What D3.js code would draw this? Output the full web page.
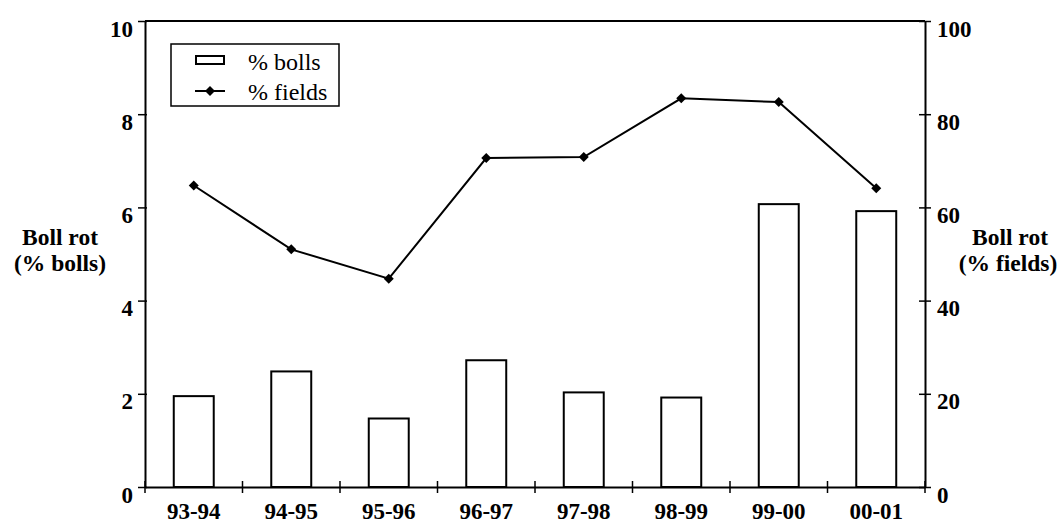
<!DOCTYPE html>
<html><head><meta charset="utf-8">
<script src="https://cdn.jsdelivr.net/npm/d3@7"></script>
<style>body{margin:0;background:#fff}svg{display:block}</style>
</head><body><svg id="c" width="1063" height="526"></svg>
<script>
const seasons = ["93-94","94-95","95-96","96-97","97-98","98-99","99-00","00-01"];
const pctBolls = [1.95, 2.48, 1.47, 2.72, 2.03, 1.92, 6.07, 5.92];
const pctFields = [64.7, 51.0, 44.7, 70.6, 70.8, 83.4, 82.6, 64.1];
const leftTicks = [0, 2, 4, 6, 8, 10];
const rightTicks = [0, 20, 40, 60, 80, 100];

const FONT = "'Liberation Serif', 'Times New Roman', serif";
const svg = d3.select("#c");
const L = 145, R = 925, T = 21, B = 487;
const x = d3.scaleBand().domain(seasons).range([L, R]).paddingInner(0.59).paddingOuter(0.295);
const xb = d3.scaleBand().domain(seasons).range([L, R]);
const yL = d3.scaleLinear().domain([0, 10]).range([B, T]);
const yR = d3.scaleLinear().domain([0, 100]).range([B, T]);

// bars
svg.append("g").selectAll("rect").data(seasons).join("rect")
  .attr("x", d => x(d)).attr("width", x.bandwidth())
  .attr("y", (d,i) => yL(pctBolls[i])).attr("height", (d,i) => B - yL(pctBolls[i]))
  .attr("fill", "#fff").attr("stroke", "#000").attr("stroke-width", 2);

// frame top
svg.append("line").attr("x1", L).attr("x2", R).attr("y1", T).attr("y2", T).attr("stroke", "#000").attr("stroke-width", 2);

// left axis
const gL = svg.append("g").attr("transform", `translate(${L},0)`)
  .call(d3.axisLeft(yL).tickValues(leftTicks).tickSize(7).tickSizeOuter(0).tickPadding(5));
gL.selectAll(".tick line").attr("x2", -7).attr("x1", 2);
// right axis
const gR = svg.append("g").attr("transform", `translate(${R},0)`)
  .call(d3.axisRight(yR).tickValues(rightTicks).tickSize(6).tickSizeOuter(0).tickPadding(6));
gR.selectAll(".tick line").attr("x1", -6).attr("x2", 6);
// bottom axis: ticks at category boundaries
const gB = svg.append("g").attr("transform", `translate(0,${B})`)
  .call(d3.axisBottom(xb).tickSize(0).tickSizeOuter(0).tickPadding(16));
const bounds = seasons.map(d => xb(d)).concat([R]);
gB.selectAll(".bt").data(bounds).join("line").attr("class","bt")
  .attr("x1", d => d).attr("x2", d => d).attr("y1", -6).attr("y2", 6).attr("stroke", "#000").attr("stroke-width", 1.5);

[gL, gR, gB].forEach(g => {
  g.select(".domain").attr("stroke", "#000").attr("stroke-width", 2);
  g.selectAll(".tick line").attr("stroke", "#000").attr("stroke-width", 1.5);
  g.selectAll("text").attr("font-weight", "bold").attr("fill", "#000")
    .style("font-family", FONT);
});
gL.selectAll(".tick text").attr("font-size", 23).attr("dy", "0.66em");
gR.selectAll(".tick text").attr("font-size", 23).attr("dy", "0.66em");
gB.selectAll(".tick text").attr("font-size", 23);

// line
const line = d3.line().x((d,i) => xb(seasons[i]) + xb.bandwidth()/2).y(d => yR(d));
svg.append("path").datum(pctFields).attr("d", line).attr("fill", "none").attr("stroke", "#000").attr("stroke-width", 2);
const marker = d3.symbol().type(d3.symbolSquare).size(50);
svg.append("g").selectAll("path").data(pctFields).join("path")
  .attr("d", marker)
  .attr("transform", (d,i) => `translate(${xb(seasons[i]) + xb.bandwidth()/2},${yR(d)}) rotate(45)`)
  .attr("fill", "#000");

// axis titles
const t1 = svg.append("text").attr("text-anchor", "middle").attr("font-size", 23.5).attr("font-weight", "bold").style("font-family", FONT);
t1.append("tspan").attr("x", 60).attr("y", 245).text("Boll rot");
t1.append("tspan").attr("x", 60).attr("y", 271).text("(% bolls)");
const t2 = svg.append("text").attr("text-anchor", "middle").attr("font-size", 23.5).attr("font-weight", "bold").style("font-family", FONT);
t2.append("tspan").attr("x", 1010).attr("y", 245).text("Boll rot");
t2.append("tspan").attr("x", 1008).attr("y", 271).text("(% fields)");

// legend
const lg = svg.append("g");
lg.append("rect").attr("x", 171).attr("y", 44).attr("width", 168).attr("height", 62).attr("fill", "#fff").attr("stroke", "#000").attr("stroke-width", 1.5);
lg.append("rect").attr("x", 196).attr("y", 56).attr("width", 28).attr("height", 8).attr("fill", "#fff").attr("stroke", "#000").attr("stroke-width", 2);
lg.append("line").attr("x1", 195).attr("x2", 225).attr("y1", 91).attr("y2", 91).attr("stroke", "#000").attr("stroke-width", 2);
lg.append("path").attr("d", marker).attr("transform", "translate(210,91) rotate(45)").attr("fill", "#000");
lg.append("text").attr("x", 248).attr("y", 70).attr("font-size", 24).style("font-family", FONT).text("% bolls");
lg.append("text").attr("x", 248).attr("y", 100).attr("font-size", 24).style("font-family", FONT).text("% fields");
</script></body></html>
